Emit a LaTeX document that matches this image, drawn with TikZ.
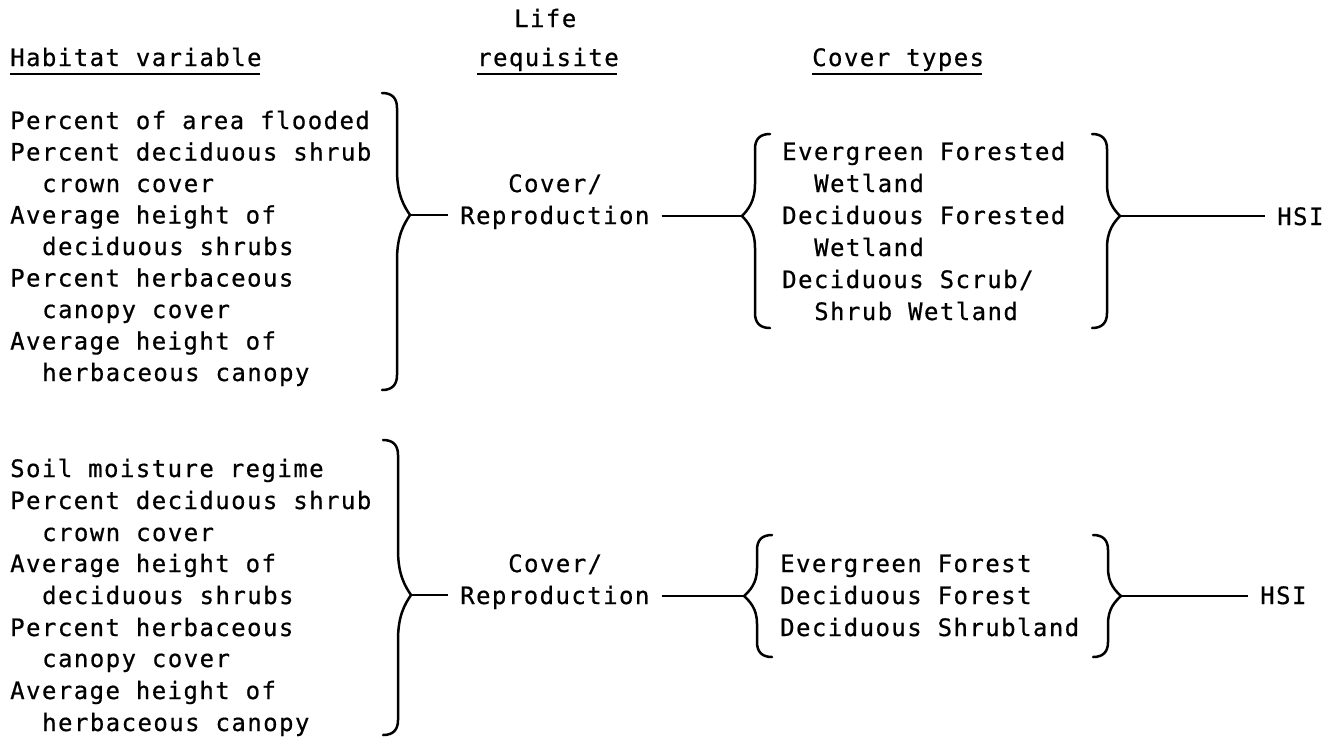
\documentclass[tikz,border=0pt]{standalone}
\usepackage{fontspec}
\newfontfamily\tw[LetterSpace=6,FakeBold=0.6]{DejaVu Sans Mono}
\newcommand\RBr[6]{% xv, ytop, ytip, ybot, c, name  (tip to the right)
\draw[brace] ({#1-15},#2) .. controls ({#1-5},#2) and (#1,{#2+5}) .. (#1,{#2+15}) -- (#1,{#3-#5}) .. controls (#1,{#3-0.45*#5}) and ({#1+7},{#3-0.2*#5}) .. ({#1+13},#3) .. controls ({#1+7},{#3+0.2*#5}) and (#1,{#3+0.45*#5}) .. (#1,{#3+#5}) -- (#1,{#4-15}) .. controls (#1,{#4-5}) and ({#1-5},#4) .. ({#1-15},#4);
\coordinate (#6) at ({#1+13},#3);}
\newcommand\LBr[6]{% xv, ytop, ytip, ybot, c, name  (tip to the left)
\draw[brace] ({#1+15},#2) .. controls ({#1+5},#2) and (#1,{#2+5}) .. (#1,{#2+15}) -- (#1,{#3-#5}) .. controls (#1,{#3-0.45*#5}) and ({#1-7},{#3-0.2*#5}) .. ({#1-13},#3) .. controls ({#1-7},{#3+0.2*#5}) and (#1,{#3+0.45*#5}) .. (#1,{#3+#5}) -- (#1,{#4-15}) .. controls (#1,{#4-5}) and ({#1+5},#4) .. ({#1+15},#4);
\coordinate (#6) at ({#1-13},#3);}
\newcommand\Ln[4]{\node[txt] (#1) at (#2,#3) {#4};}
\begin{document}
\begin{tikzpicture}[x=1pt,y=-1pt,
  txt/.style={anchor=base west, inner sep=0pt, font=\tw\fontsize{24pt}{28pt}\selectfont},
  brace/.style={line width=2.5pt, line cap=round},
  conn/.style={line width=2pt},
  ul/.style={line width=1.6pt}]
\useasboundingbox[fill=white] (0,0) rectangle (1332,737);

% headers
\Ln{life}{514}{27}{Life}
\Ln{hv}{10}{66}{Habitat variable}
\Ln{req}{477}{66}{requisite}
\Ln{ct}{812}{66}{Cover types}
\draw[ul] ([yshift=-8pt]hv.base west) -- ([yshift=-8pt,xshift=-2pt]hv.base east);
\draw[ul] ([yshift=-8pt]req.base west) -- ([yshift=-8pt,xshift=-2pt]req.base east);
\draw[ul] ([yshift=-8pt]ct.base west) -- ([yshift=-8pt,xshift=-2pt]ct.base east);

% upper block, habitat variables
\Ln{a1}{10}{129}{Percent of area flooded}
\Ln{a2}{10}{160.5}{Percent deciduous shrub}
\Ln{a3}{42}{192}{crown cover}
\Ln{a4}{10}{223.5}{Average height of}
\Ln{a5}{42}{255}{deciduous shrubs}
\Ln{a6}{10}{286.5}{Percent herbaceous}
\Ln{a7}{42}{318}{canopy cover}
\Ln{a8}{10}{349.5}{Average height of}
\Ln{a9}{42}{381}{herbaceous canopy}
\RBr{397}{93}{215}{390}{45}{tipA}

\Ln{covA}{508}{192}{Cover/}
\Ln{repA}{460}{224}{Reproduction}
\draw[conn] (tipA) -- ([xshift=-12pt]tipA -| repA.west);

\LBr{755}{134}{216}{328}{32}{tipB}
\draw[conn] ([xshift=12pt]tipB -| repA.east) -- (tipB);
\Ln{b1}{782}{160}{Evergreen Forested}
\Ln{b2}{814}{192}{Wetland}
\Ln{b3}{782}{224}{Deciduous Forested}
\Ln{b4}{814}{256}{Wetland}
\Ln{b5}{782}{288}{Deciduous Scrub/}
\Ln{b6}{814}{320}{Shrub Wetland}
\RBr{1107}{134}{216}{328}{32}{tipC}
\Ln{hsiA}{1277}{225}{HSI}
\draw[conn] (tipC) -- ([xshift=-12pt]tipC -| hsiA.west);

% lower block
\Ln{c1}{10}{477}{Soil moisture regime}
\Ln{c2}{10}{509}{Percent deciduous shrub}
\Ln{c3}{42}{541}{crown cover}
\Ln{c4}{10}{572}{Average height of}
\Ln{c5}{42}{604}{deciduous shrubs}
\Ln{c6}{10}{636}{Percent herbaceous}
\Ln{c7}{42}{667}{canopy cover}
\Ln{c8}{10}{699}{Average height of}
\Ln{c9}{42}{731}{herbaceous canopy}
\RBr{398}{440}{595}{735}{45}{tipD}

\Ln{covB}{508}{572}{Cover/}
\Ln{repB}{460}{604}{Reproduction}
\draw[conn] (tipD) -- ([xshift=-12pt]tipD -| repB.west);

\LBr{757}{535}{596}{657}{28}{tipE}
\draw[conn] ([xshift=12pt]tipE -| repB.east) -- (tipE);
\Ln{d1}{780}{572}{Evergreen Forest}
\Ln{d2}{780}{604}{Deciduous Forest}
\Ln{d3}{780}{636}{Deciduous Shrubland}
\RBr{1108}{535}{596}{657}{28}{tipF}
\Ln{hsiB}{1260}{604}{HSI}
\draw[conn] (tipF) -- ([xshift=-12pt]tipF -| hsiB.west);
\end{tikzpicture}
\end{document}
